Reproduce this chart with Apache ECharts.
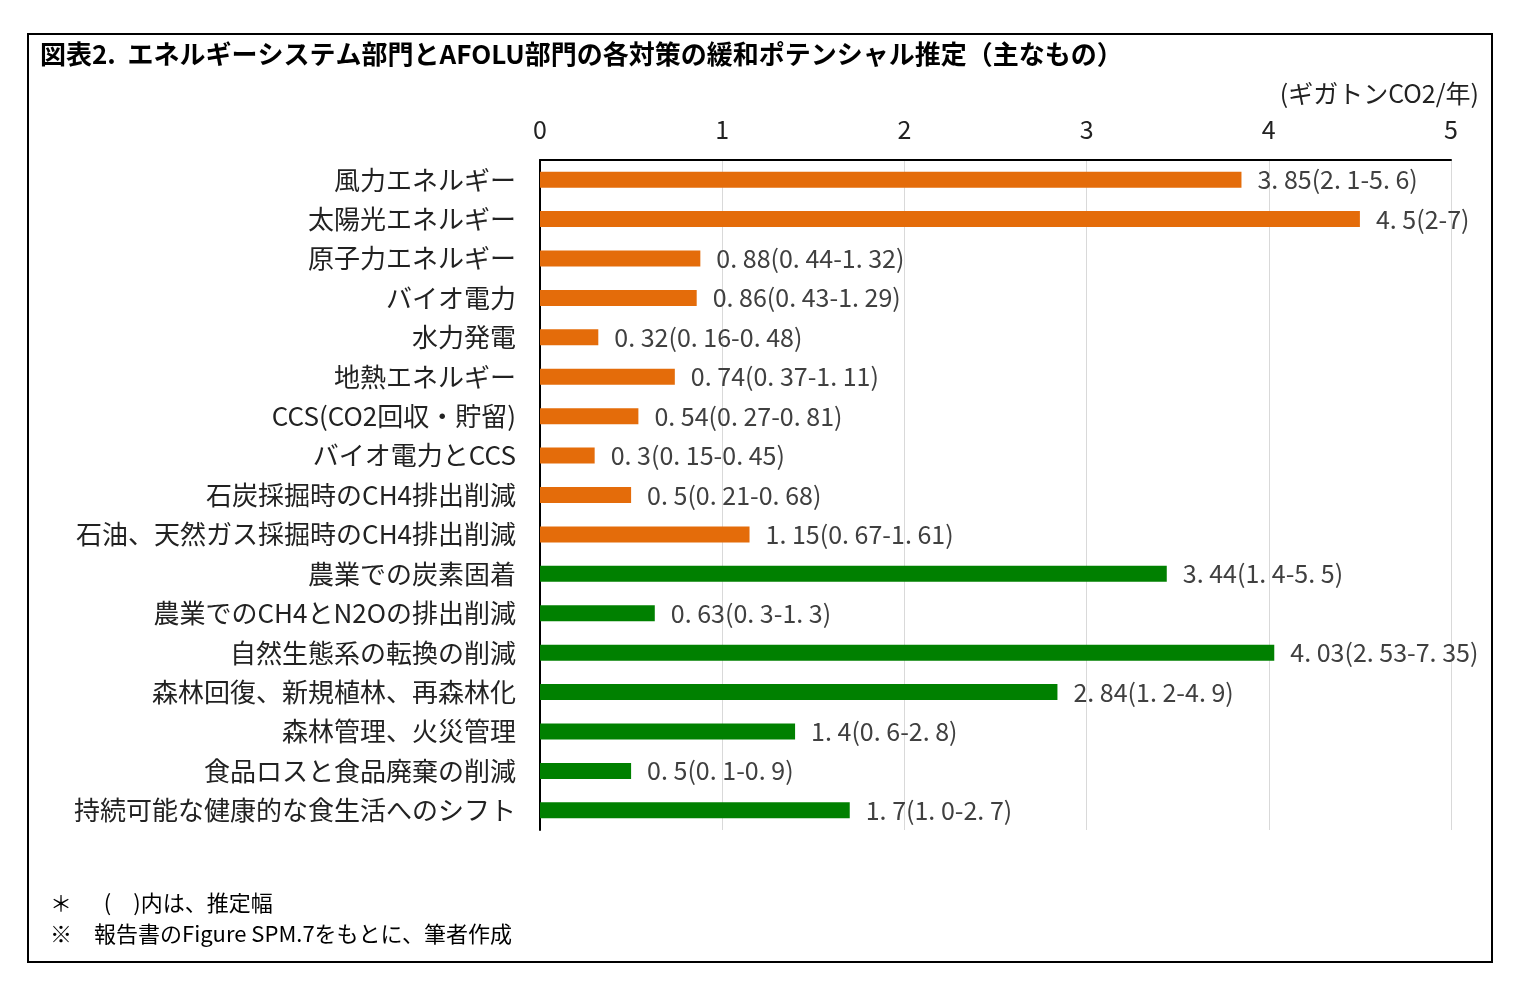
<!DOCTYPE html>
<html><head><meta charset="utf-8">
<script src="https://cdn.jsdelivr.net/npm/echarts@6/dist/echarts.min.js"></script>
<style>html,body{margin:0;padding:0;background:#fff}#c{width:1521px;height:993px}</style>
</head><body><div id="c"></div>
<script>
const categories = ["風力エネルギー","太陽光エネルギー","原子力エネルギー","バイオ電力","水力発電","地熱エネルギー","CCS(CO2回収・貯留)","バイオ電力とCCS","石炭採掘時のCH4排出削減","石油、天然ガス採掘時のCH4排出削減","農業での炭素固着","農業でのCH4とN2Oの排出削減","自然生態系の転換の削減","森林回復、新規植林、再森林化","森林管理、火災管理","食品ロスと食品廃棄の削減","持続可能な健康的な食生活へのシフト"];
const values = [3.85,4.5,0.88,0.86,0.32,0.74,0.54,0.3,0.5,1.15,3.44,0.63,4.03,2.84,1.4,0.5,1.7];
const valueText = ["3.85","4.5","0.88","0.86","0.32","0.74","0.54","0.3","0.5","1.15","3.44","0.63","4.03","2.84","1.4","0.5","1.7"];
const ranges = ["2.1-5.6","2-7","0.44-1.32","0.43-1.29","0.16-0.48","0.37-1.11","0.27-0.81","0.15-0.45","0.21-0.68","0.67-1.61","1.4-5.5","0.3-1.3","2.53-7.35","1.2-4.9","0.6-2.8","0.1-0.9","1.0-2.7"];
const sectors = ["E","E","E","E","E","E","E","E","E","E","A","A","A","A","A","A","A"];
const sectorColor = {E:"#E46C0A", A:"#008000"};
const F = "'Noto Sans CJK JP', sans-serif";
const fmt = s => s.replace(/\./g, ". ");
const chart = echarts.init(document.getElementById('c'));
chart.setOption({
  animation:false,
  textStyle:{fontFamily:F},
  graphic:[
    {type:'rect', shape:{x:28,y:34,width:1464,height:928}, style:{fill:'none',stroke:'#000',lineWidth:2}},
    {type:'text', left:40, top:41, style:{text:'図表2.  エネルギーシステム部門とAFOLU部門の各対策の緩和ポテンシャル推定（主なもの）', font:'bold 26px '+F, fill:'#000'}},
    {type:'text', right:42, top:81, style:{text:'(ギガトンCO2/年)', font:'25px '+F, fill:'#222'}},
    {type:'text', left:50, top:892, style:{text:'＊　  (　)内は、推定幅', font:'22px '+F, fill:'#000'}},
    {type:'text', left:50, top:923, style:{text:'※　報告書のFigure SPM.7をもとに、筆者作成', font:'22px '+F, fill:'#000'}}
  ],
  grid:{left:540, right:70, top:160, bottom:163},
  xAxis:{type:'value', position:'top', min:0, max:5, interval:1,
    axisLine:{show:true, lineStyle:{color:'#000', width:2}}, axisTick:{show:false},
    axisLabel:{fontSize:25, color:'#222', margin:18, fontFamily:F},
    splitLine:{lineStyle:{color:'#d9d9d9', width:1}}},
  yAxis:{type:'category', inverse:true, data:categories,
    axisLine:{show:true, lineStyle:{color:'#000', width:2}}, axisTick:{show:false},
    axisLabel:{fontSize:26, color:'#222', margin:24, fontFamily:F}},
  series:[{type:'bar', barWidth:16,
    data: values.map((v,i)=>({value:v, itemStyle:{color:sectorColor[sectors[i]]}})),
    label:{show:true, position:'right', distance:16, fontSize:25, color:'#404040', fontFamily:F,
      formatter:p=>fmt(valueText[p.dataIndex])+'('+fmt(ranges[p.dataIndex])+')'}}]
});
</script></body></html>
